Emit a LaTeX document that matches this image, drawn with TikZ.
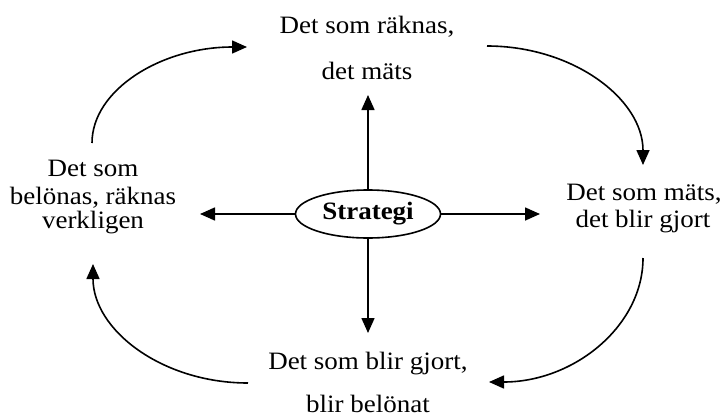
\documentclass[tikz,border=0pt]{standalone}
\usepackage{fontspec}
\setmainfont{Liberation Serif}[FakeStretch=1.08]
\usetikzlibrary{arrows.meta,shapes.geometric}
\begin{document}
\begin{tikzpicture}[x=1pt,y=-1pt,
  lbl/.style={font=\fontsize{25}{28}\selectfont, inner sep=0pt, anchor=base},
  arr/.style={line width=1.6pt, -{Triangle[length=15pt,width=13pt]}},
  core/.style={ellipse, draw, line width=1.6pt, minimum width=145pt,
    minimum height=48pt, inner sep=0pt, font=\fontsize{25}{28}\selectfont\bfseries}]
\useasboundingbox (0,0) rectangle (721,416);

% centre
\node[core] (s) at (368,214) {Strategi};

% the four statements
\node[lbl] (t1) at (367,33) {Det som räknas,};
\node[lbl] (t2) at (367,79) {det mäts};
\node[lbl] (r1) at (644,200) {Det som mäts,};
\node[lbl] (r2) at (643,227) {det blir gjort};
\node[lbl] (b1) at (368,369) {Det som blir gjort,};
\node[lbl] (b2) at (368,412) {blir belönat};
\node[lbl] (l1) at (93,176) {Det som};
\node[lbl] (l2) at (93,204) {belönas, räknas};
\node[lbl] (l3) at (93,228) {verkligen};

% arrows out of the centre
\coordinate (up) at (368,95);
\coordinate (dn) at (368,333);
\coordinate (lt) at (200,214);
\coordinate (rt) at (540,214);
\draw[arr] (s) -- (up);
\draw[arr] (s) -- (dn);
\draw[arr] (s) -- (lt);
\draw[arr] (s) -- (rt);

% the cycle
\coordinate (c1) at (92,143);
\coordinate (c2) at (247,47);
\coordinate (c3) at (487,46);
\coordinate (c4) at (643,165);
\coordinate (c5) at (643,258);
\coordinate (c6) at (489,382);
\coordinate (c7) at (248,383);
\coordinate (c8) at (93,264);
\draw[arr] (c1) .. controls (92,90) and (161,47) .. (c2);
\draw[arr] (c3) .. controls (573,46) and (643,99) .. (c4);
\draw[arr] (c5) .. controls (643,326) and (574,382) .. (c6);
\draw[arr] (c7) .. controls (162,383) and (93,330) .. (c8);
\end{tikzpicture}
\end{document}
